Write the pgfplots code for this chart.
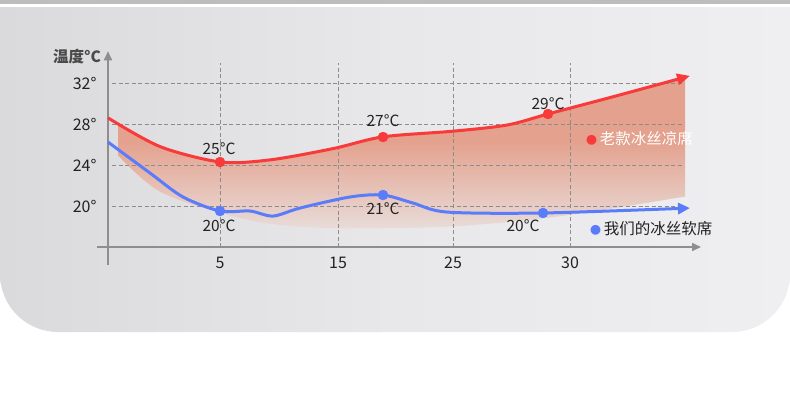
\documentclass[border=0pt]{standalone}
\usepackage{pgfplots}
\pgfplotsset{compat=1.18}
\usepackage{fontspec}
\setmainfont{Noto Sans CJK SC}
\usetikzlibrary{arrows.meta}
\definecolor{redline}{HTML}{F83A3A}
\definecolor{blueline}{HTML}{5A7CFA}
\definecolor{salmon}{HTML}{E4A18D}
\definecolor{salmonlt}{HTML}{E8DCD9}
\definecolor{gridC}{HTML}{8C8C8C}
\definecolor{axisC}{HTML}{8E8E8E}
\definecolor{textC}{HTML}{222222}
\definecolor{titleC}{HTML}{4A4A4A}
\definecolor{cardL}{HTML}{DADADC}
\definecolor{cardM}{HTML}{E8E8EA}
\definecolor{cardR}{HTML}{EFEFF1}
\definecolor{topbar}{HTML}{BDBDBD}

% x in reference pixels, y in degrees
\pgfplotstableread{
x y
108 28.6
160 25.8
220 24.3
270 24.5
333 25.6
383 26.75
453 27.3
507 27.9
548 28.98
613 30.66
690 32.7
}\oldmat
\pgfplotstableread{
x y
108 26.24
150 23.22
183 20.88
220 19.51
250 19.51
273 19.02
300 19.8
350 20.88
383 21.07
413 20.29
447 19.41
543 19.32
690 19.8
}\newmat

\begin{document}
\begin{tikzpicture}[x=1pt,y=1pt]
\useasboundingbox (0,0) rectangle (790,-415);
\fill[white] (0,0) rectangle (790,-415);
\fill[topbar] (0,0) rectangle (790,-4);
\begin{scope}
  \clip[rounded corners=58pt] (0,-332) rectangle (790,80);
  \clip (0,-7) rectangle (790,-332);
  \shade[left color=cardL, right color=cardR, middle color=cardM] (0,-7) rectangle (790,-332);
\end{scope}

\begin{axis}[
    at={(100pt,-253.15pt)}, anchor=south west,
    scale only axis, width=600pt, height=206pt,
    xmin=100, xmax=700, ymin=15.4, ymax=35.5,
    axis line style={draw=none},
    major tick length=0pt,
    xtick={220,338,453,570}, xticklabels={5,15,25,30},
    ytick={20,24,28,32}, yticklabels={20°,24°,28°,32°},
    tick label style={font=\fontsize{16}{16}\selectfont, text=textC},
    clip=false
]
  % band under the old mat's curve, cut off straight at its right end
  \begin{scope}
    \clip (axis cs:118,15.5) rectangle (axis cs:685,34);
    \addplot[draw=none, top color=salmon, bottom color=salmonlt,
             middle color=salmon, smooth]
      coordinates {(108,28.6) (160,25.8) (220,24.3) (270,24.5) (333,25.6) (383,26.75)
                   (453,27.3) (507,27.9) (548,28.98) (613,30.66) (690,32.7) (740,33.5)
                   (740,21.8) (690,21.0) (560,19.0) (450,18.0) (330,17.85) (250,18.6)
                   (160,21.4) (108,26.0)};
  \end{scope}

  % grid
  \foreach \gx in {220,338,453,570}{
    \edef\tmp{\noexpand\draw[gridC, dashed, dash pattern=on 4pt off 2.5pt, line width=0.8pt]
      (axis cs:\gx,16) -- (axis cs:\gx,33.95);}\tmp
  }
  \foreach \gy in {20,24,28,32}{
    \edef\tmp{\noexpand\draw[gridC, dashed, dash pattern=on 4pt off 2.5pt, line width=0.8pt]
      (axis cs:112,\gy) -- (axis cs:683,\gy);}\tmp
  }

  % axes
  \draw[axisC, line width=1.6pt, -{Triangle[length=9pt,width=8pt]}]
    (axis cs:108,14.24) -- (axis cs:108,35.1);
  \draw[axisC, line width=1.6pt, -{Triangle[length=9pt,width=8pt]}]
    (axis cs:97,16) -- (axis cs:701,16);
  \node[font=\fontsize{15.5}{15.5}\selectfont\bfseries, text=titleC]
    at (axis cs:77,34.63) {温度°C};

  % curves
  \addplot[redline, line width=3pt, smooth, -{Triangle[length=13pt,width=11pt]}]
    table {\oldmat};
  \addplot[blueline, line width=3pt, smooth, -{Triangle[length=12pt,width=11pt]}]
    table {\newmat};

  \addplot[only marks, mark=*, mark size=5pt, redline]
    coordinates {(220,24.29) (383,26.73) (548,28.98)};
  \addplot[only marks, mark=*, mark size=5pt, blueline]
    coordinates {(220,19.51) (383,21.07) (543,19.32)};

  % value labels
  \begin{scope}[every node/.style={font=\fontsize{15.5}{15.5}\selectfont, text=textC}]
    \node at (axis cs:219,25.56) {25°C};
    \node at (axis cs:383,28.29) {27°C};
    \node at (axis cs:548,29.95) {29°C};
    \node at (axis cs:219,18.05) {20°C};
    \node at (axis cs:383,19.71) {21°C};
    \node at (axis cs:523,18.05) {20°C};
  \end{scope}

  % legend
  \node[anchor=west, inner sep=0pt, font=\fontsize{15.5}{15.5}\selectfont, text=white]
    at (axis cs:586,26.54) {{\fontsize{11}{11}\selectfont\textcolor{redline}{●}}\,老款冰丝凉席};
  \node[anchor=west, inner sep=0pt, font=\fontsize{15.5}{15.5}\selectfont, text=textC]
    at (axis cs:590,17.76) {{\fontsize{11}{11}\selectfont\textcolor{blueline}{●}}\,我们的冰丝软席};
\end{axis}
\end{tikzpicture}
\end{document}
